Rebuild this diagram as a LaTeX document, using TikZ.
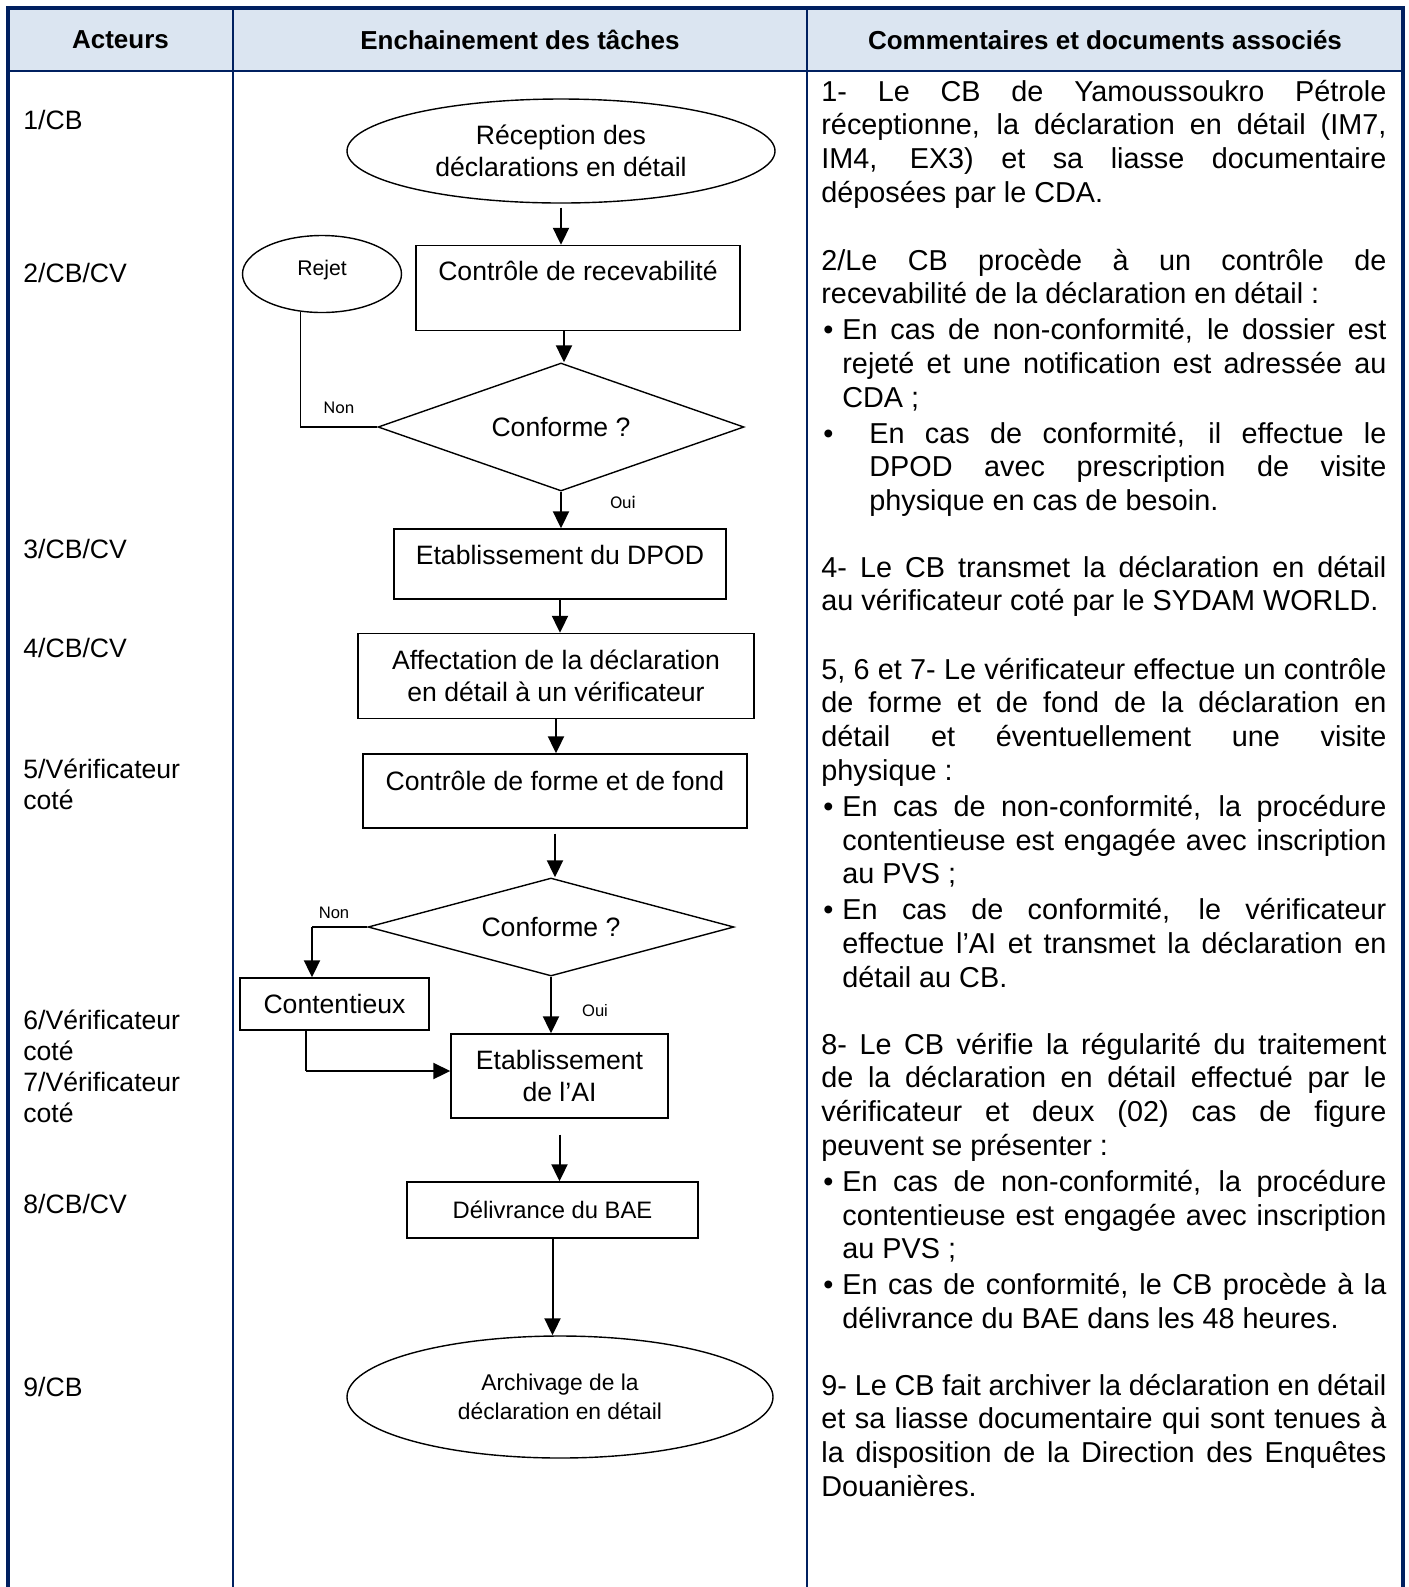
\documentclass[tikz,border=0pt]{standalone}
\usepackage{fontspec}
\setmainfont{Liberation Sans}
\newfontfamily\calibri{Carlito}
\usetikzlibrary{shapes.geometric, arrows.meta}
\definecolor{bordure}{RGB}{0,32,96}
\definecolor{entete}{RGB}{219,229,241}
\newcommand\flowfont{\fontsize{13.3}{15.8}\selectfont}
\newcommand\colfont{\fontsize{14.4}{16.9}\selectfont}
\newcommand\puce[1]{\par\vspace{1pt}\noindent\hangindent=#1\hangafter=1\makebox[#1][l]{\hspace{1pt}\textbullet}}
\tolerance=10000
\hyphenpenalty=10000

\begin{document}
\begin{tikzpicture}[
    x=0.5pt, y=-0.5pt,
    box/.style={draw, line width=0.7pt, rectangle, align=center, font=\flowfont},
    oval/.style={draw, line width=0.7pt, ellipse, align=center, inner sep=0pt, font=\flowfont},
    decision/.style={draw, line width=0.7pt, diamond, inner sep=0pt, font=\flowfont},
    arrow/.style={line width=1pt, -{Triangle[length=8.5pt, width=8pt]}},
    line/.style={line width=0.7pt},
    actor/.style={anchor=base west, inner sep=0pt, text width=100pt, align=left, font=\fontsize{13.3}{15.5}\selectfont},
    comment/.style={anchor=base west, inner sep=0pt, text width=282.5pt, align=justify, font=\colfont},
    head/.style={font=\fontsize{13}{15}\selectfont\bfseries},
    tag/.style={inner sep=0pt, font=\fontsize{8.3}{10}\selectfont}
]
\useasboundingbox (0,0) rectangle (1409,1587);

% Header Row
\fill [entete] (8,8) rectangle (1403,71);
\node (hact) [head] at (120.5,40) {Acteurs};
\node (htache) [head] at (520,40) {Enchainement des tâches};
\node (hcomm) [head] at (1105,40) {Commentaires et documents associés};

% Grid
\draw [bordure, line width=0.8pt] (8,71) -- (1403,71);
\draw [bordure, line width=0.8pt] (233,8) -- (233,1587) (807,8) -- (807,1587);
\draw [bordure, line width=1.6pt] (8,1587) -- (8,8) -- (1403,8) -- (1403,1587);

% Actors
\node (a1) [actor] at (23,129) {1/CB};
\node (a2) [actor] at (23,282.5) {2/CB/CV};
\node (a3) [actor] at (23,558) {3/CB/CV};
\node (a4) [actor] at (23,657.5) {4/CB/CV};
\node (a5) [actor] at (23,778.5) {5/Vérificateur\\coté};
\node (a6) [actor] at (23,1029) {6/Vérificateur\\coté\\7/Vérificateur\\coté};
\node (a8) [actor] at (23,1213) {8/CB/CV};
\node (a9) [actor] at (23,1396) {9/CB};

% Task Chain
\node (recep) [oval, minimum width=214pt, minimum height=52pt] at (561,151) {Réception des\\déclarations en détail};
\node (ctrl) [box, minimum width=162pt, minimum height=42.5pt, text height=10pt, text depth=17.5pt] at (578,288) {Contrôle de recevabilité};
\node (rejet) [oval, minimum width=79.5pt, minimum height=38.5pt, font=\fontsize{10.6}{12}\selectfont, text height=8pt, text depth=6.5pt] at (322,274) {Rejet};
\node (conf1) [decision, aspect=2.86, minimum width=183pt, minimum height=64pt] at (561,427) {Conforme ?};
\node (dpod) [box, minimum width=166pt, minimum height=35pt, text height=10pt, text depth=9.5pt] at (560,564) {Etablissement du DPOD};
\node (affect) [box, minimum width=198pt, minimum height=42.5pt] at (556,676) {Affectation de la déclaration\\en détail à un vérificateur};
\node (forme) [box, minimum width=192pt, minimum height=37pt, text height=10pt, text depth=10.5pt] at (555,791) {Contrôle de forme et de fond};
\node (conf2) [decision, aspect=3.73, minimum width=183pt, minimum height=49pt] at (551,927) {Conforme ?};
\node (cnt) [box, minimum width=94.5pt, minimum height=26pt] at (334.5,1004) {Contentieux};
\node (ai) [box, minimum width=108.5pt, minimum height=42pt] at (559.5,1076) {Etablissement\\de l’AI};
\node (bae) [box, minimum width=145.5pt, minimum height=28pt, font=\fontsize{11.9}{14}\selectfont] at (552.5,1210) {Délivrance du BAE};
\node (archiv) [oval, minimum width=213pt, minimum height=61pt, font=\fontsize{11.4}{14.2}\selectfont] at (560,1397) {Archivage de la\\déclaration en détail};

\draw [arrow, shorten <=2pt] (recep.south) -- (recep.south |- ctrl.north);
\draw [arrow] ([xshift=-7pt]ctrl.south) -- ([xshift=-7pt]ctrl.south |- conf1.north);
\draw [arrow] (conf1.south) -- (conf1.south |- dpod.north);
\draw [arrow] (dpod.south) -- (dpod.south |- affect.north);
\draw [arrow] (affect.south) -- (affect.south |- forme.north);
\draw [arrow, shorten <=2.5pt] (forme.south) -- (forme.south |- conf2.north);
\draw [arrow] (conf2.south) -- (conf2.south |- ai.north);
\draw [arrow, shorten <=8pt] (ai.south) -- (ai.south |- bae.north);
\draw [arrow] (bae.south) -- (bae.south |- archiv.north);

% Branches
\draw [line] (conf1.west) -| (rejet.-120);
\node (non1) [tag, font=\calibri\fontsize{9}{11}\selectfont] at (339,408) {Non};
\node (oui1) [tag, font=\calibri\fontsize{9}{11}\selectfont] at (623,502) {Oui};

\coordinate (coude2) at (312,927);
\draw [line] (conf2.west) -- (coude2);
\draw [arrow] (coude2) -- (coude2 |- cnt.north);
\coordinate (coude3) at (306,1071);
\draw [line] (cnt.south -| coude3) -- (coude3);
\draw [arrow] (coude3) -- (coude3 -| ai.west);
\node (non2) [tag] at (334,913) {Non};
\node (oui2) [tag] at (595,1011) {Oui};

% Comments
\node (c1) [comment] at (821,101) {1- Le CB de Yamoussoukro Pétrole\linebreak réceptionne, la déclaration en détail (IM7,\linebreak IM4, EX3) et sa liasse documentaire\linebreak déposées par le CDA.\par};
\node (c2) [comment] at (821,270) {2/Le CB procède à un contrôle de\linebreak recevabilité de la déclaration en détail :%
\puce{10.5pt}En cas de non-conformité, le dossier est\linebreak rejeté et une notification est adressée au\linebreak CDA ;%
\puce{24pt}En cas de conformité, il effectue le\linebreak DPOD avec prescription de visite\linebreak physique en cas de besoin.\par};
\node (c4) [comment] at (821,577) {4- Le CB transmet la déclaration en détail\linebreak au vérificateur coté par le SYDAM WORLD.\par};
\node (c5) [comment] at (821,679) {5, 6 et 7- Le vérificateur effectue un contrôle\linebreak de forme et de fond de la déclaration en\linebreak détail et éventuellement une visite\linebreak physique :%
\puce{10.5pt}En cas de non-conformité, la procédure\linebreak contentieuse est engagée avec inscription\linebreak au PVS ;%
\puce{10.5pt}En cas de conformité, le vérificateur\linebreak effectue l’AI et transmet la déclaration en\linebreak détail au CB.\par};
\node (c8) [comment] at (821,1054) {8- Le CB vérifie la régularité du traitement\linebreak de la déclaration en détail effectué par le\linebreak vérificateur et deux (02) cas de figure\linebreak peuvent se présenter :%
\puce{10.5pt}En cas de non-conformité, la procédure\linebreak contentieuse est engagée avec inscription\linebreak au PVS ;%
\puce{10.5pt}En cas de conformité, le CB procède à la\linebreak délivrance du BAE dans les 48 heures.\par};
\node (c9) [comment] at (821,1395) {9- Le CB fait archiver la déclaration en détail\linebreak et sa liasse documentaire qui sont tenues à\linebreak la disposition de la Direction des Enquêtes\linebreak Douanières.\par};

\end{tikzpicture}
\end{document}
